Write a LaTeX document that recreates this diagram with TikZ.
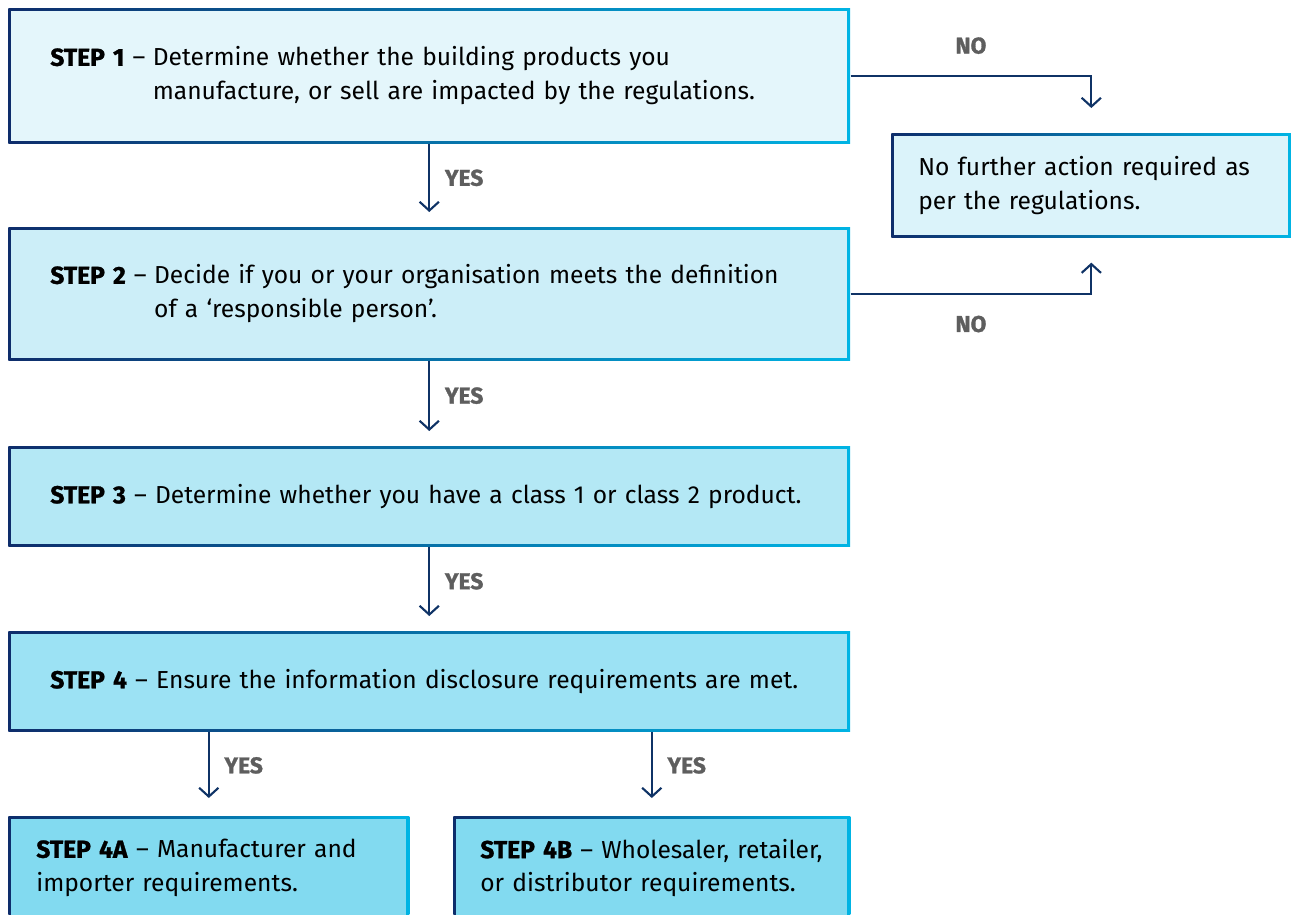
\documentclass[tikz,border=0pt]{standalone}
\usepackage{fontspec}
\setmainfont{Fira Sans}[BoldFeatures={FakeBold=1.2}]
\usetikzlibrary{arrows.meta,positioning}
\definecolor{edgeL}{HTML}{0E2D6B}
\definecolor{edgeR}{HTML}{00B4E4}
\definecolor{lineC}{HTML}{0F3366}
\definecolor{labC}{HTML}{5E5E5E}
\definecolor{fillA}{HTML}{E4F6FB}
\definecolor{fillB}{HTML}{CCEEF8}
\definecolor{fillC}{HTML}{B4E8F5}
\definecolor{fillD}{HTML}{9CE2F4}
\definecolor{fillE}{HTML}{82DAF0}
\definecolor{fillN}{HTML}{DBF3FA}
\tikzset{
  stepbox/.style={rectangle, inner sep=0pt, align=left, anchor=north west,
    font=\fontsize{14}{19}\selectfont,
    preaction={left color=edgeL, right color=edgeR},
    path picture={\fill[#1] ([shift={(2.8,-2.8)}]path picture bounding box.south west)
      rectangle ([shift={(-2.8,2.8)}]path picture bounding box.north east);}},
  flow/.style={lineC, line width=1.2pt, -{Straight Barb[length=5pt,width=11pt]}},
  answer/.style={labC, font=\fontsize{13}{15}\selectfont\bfseries},
}
\newcommand{\stepline}[3]{\begin{tabular}{@{}l@{}l@{}}\textbf{#1} --\kern0.3em & #2\\ & #3\end{tabular}}
\begin{document}
\begin{tikzpicture}[x=0.02cm, y=-0.02cm]
		\useasboundingbox (0,0) rectangle (1291,915);
		% steps
		\node[stepbox=fillA, minimum width=16.84cm, minimum height=2.70cm, inner xsep=0.84cm, text width=15.16cm] (s1) at (8,8)
			{\stepline{STEP 1}{Determine whether the building products you}{manufacture, or sell are impacted by the regulations.}};
		\node[stepbox=fillB, minimum width=16.84cm, minimum height=2.66cm, inner xsep=0.84cm, text width=15.16cm] (s2) at (8,227)
			{\stepline{STEP 2}{Decide if you or your organisation meets the definition}{of a `responsible person'.}};
		\node[stepbox=fillC, minimum width=16.84cm, minimum height=2.00cm, inner xsep=0.84cm, text width=15.16cm] (s3) at (8,446)
			{\textbf{STEP 3} -- Determine whether you have a class 1 or class 2 product.};
		\node[stepbox=fillD, minimum width=16.84cm, minimum height=2.00cm, inner xsep=0.84cm, text width=15.16cm] (s4) at (8,631)
			{\textbf{STEP 4} -- Ensure the information disclosure requirements are met.};
		\node[stepbox=fillE, minimum width=8.02cm, minimum height=2.06cm, inner xsep=0.56cm, text width=6.90cm] (s4a) at (8,816)
			{\textbf{STEP 4A} -- Manufacturer and\\importer requirements.};
		\node[stepbox=fillE, minimum width=7.94cm, minimum height=2.06cm, inner xsep=0.54cm, text width=6.86cm] (s4b) at (453,816)
			{\textbf{STEP 4B} -- Wholesaler, retailer,\\or distributor requirements.};
		\node[stepbox=fillN, minimum width=8.00cm, minimum height=2.08cm, inner xsep=0.54cm, text width=6.92cm] (none) at (891,133)
			{No further action required as\\per the regulations.};
		% yes
		\draw[flow, shorten >=0.3cm] (s1) -- node[answer, pos=0.41, right=5pt] {YES} (s2);
		\draw[flow, shorten >=0.3cm] (s2) -- node[answer, pos=0.41, right=5pt] {YES} (s3);
		\draw[flow, shorten >=0.3cm] (s3) -- node[answer, pos=0.41, right=5pt] {YES} (s4);
		\draw[flow, shorten >=0.36cm] (s4.south -| s4a.north) -- node[answer, pos=0.4, right=5pt] {YES} (s4a.north);
		\draw[flow, shorten >=0.36cm] (s4.south -| s4b.north) -- node[answer, pos=0.4, right=5pt] {YES} (s4b.north);
		% no
		\draw[flow, shorten >=0.5cm] (s1.east) -| node[answer, pos=0.25, above=0.3cm] {NO} (none.north);
		\draw[flow, shorten >=0.5cm] (s2.east) -| node[answer, pos=0.25, below=0.3cm] {NO} (none.south);
\end{tikzpicture}
\end{document}
